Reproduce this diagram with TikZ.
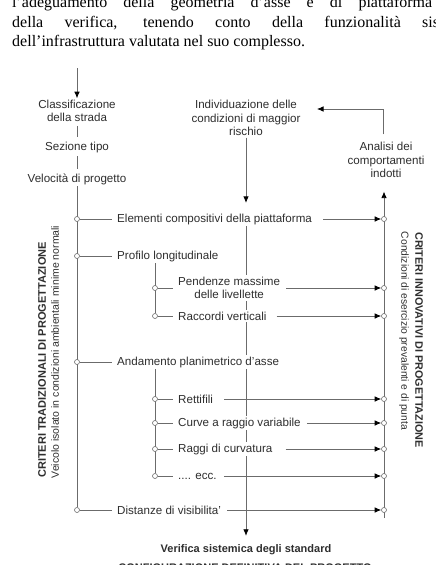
\documentclass[tikz,border=0pt]{standalone}
\usepackage{fontspec}
\setmainfont{Liberation Sans}
\newfontfamily\serifa{Liberation Serif}
\usetikzlibrary{arrows.meta}
\usetikzlibrary{backgrounds}
\definecolor{linea}{gray}{0.42}
\definecolor{scritta}{gray}{0.18}
\tikzset{
   voce/.style={font=\fontsize{11.6}{13.6}\selectfont, text=scritta,
      fill=white, inner ysep=1.5pt, inner xsep=5pt},
   voce2/.style={voce, align=center},
   titolo/.style={font=\fontsize{11}{13}\selectfont\bfseries, text=scritta, inner sep=0pt},
   sottotitolo/.style={font=\fontsize{10.5}{12}\selectfont, text=scritta, inner sep=0pt},
   testo/.style={font=\serifa\fontsize{16}{19}\selectfont, inner sep=0pt},
   filo/.style={draw=linea, line width=0.8pt},
   freccia/.style={filo, -{Latex[length=6.5pt,width=5.5pt,black]}},
   pallino/.style={circle, draw=linea, fill=white, line width=0.6pt,
      inner sep=0pt, minimum size=5pt},
    }
\begin{document}
\begin{tikzpicture}[x=1pt,y=-1pt]
\useasboundingbox (0,0) rectangle (436,565);
\clip (0,0) rectangle (436,565);
% testo della pagina
\node[testo, anchor=base west] (riga1) at (12,7)
   {\makebox[420pt][s]{l’adeguamento della geometria d’asse e di piattaforma}};
\node[testo, anchor=base west] (riga2) at (12,27)
   {\makebox[410pt][s]{della verifica, tenendo conto della funzionalità\ \mbox{}}sistemica};
\node[testo, anchor=base west] (riga3) at (12,46)
   {dell’infrastruttura valutata nel suo complesso.};

% colonna di sinistra
\coordinate (inizio) at (77,68);
\node[voce2] (classif) at (77,111) {Classificazione\\della strada};
\node[voce] (sezione) at (77,147) {Sezione tipo};
\node[voce] (velocita) at (77,179) {Velocità di progetto};
\draw[freccia] (inizio) -- (classif);
\draw[filo, shorten <=2pt, shorten >=3pt] (classif) -- (sezione);
\draw[filo, shorten <=2pt, shorten >=3pt] (sezione) -- (velocita);

% rischio e comportamenti
\node[voce2] (individ) at (246,118) {Individuazione delle\\condizioni di maggior\\rischio};
\node[voce2] (analisi) at (386,160) {Analisi dei\\comportamenti\\indotti};
\coordinate (ritorno) at (317,109);
\draw[freccia, shorten <=6pt] (analisi.north -| 383,0) |- (ritorno);

% voci principali
\node[pallino] (pElem) at (77,219) {};
\node[voce, anchor=west] (elem) at (112,219) {Elementi compositivi della piattaforma};
\node[pallino] (pProf) at (77,256) {};
\node[voce, anchor=west] (profilo) at (112,256) {Profilo longitudinale};
\node[pallino] (pAnd) at (77,362) {};
\node[voce, anchor=west] (andam) at (112,362) {Andamento planimetrico d’asse};
\node[pallino] (pDist) at (77,510) {};
\node[voce, anchor=west] (dist) at (112,510) {Distanze di visibilita’};

% voci secondarie
\node[pallino] (pPend) at (155,288) {};
\node[voce2, anchor=west] (pend) at (173,288) {Pendenze massime\\delle livellette};
\node[pallino] (pRacc) at (155,316) {};
\node[voce, anchor=west] (racc) at (173,316) {Raccordi verticali};
\node[pallino] (pRett) at (155,399) {};
\node[voce, anchor=west] (rett) at (173,399) {Rettifili};
\node[pallino] (pCurve) at (155,423) {};
\node[voce, anchor=west] (curve) at (173,423) {Curve a raggio variabile};
\node[pallino] (pRaggi) at (155,449) {};
\node[voce, anchor=west] (raggi) at (173,449) {Raggi di curvatura};
\node[pallino] (pEcc) at (155,476) {};
\node[voce, anchor=west] (ecc) at (173,476) {.... ecc.};

% attacchi sulla linea di destra
\node[pallino] (qElem) at (384,219) {};
\node[pallino] (qPend) at (384,288) {};
\node[pallino] (qRacc) at (384,316) {};
\node[pallino] (qRett) at (384,399) {};
\node[pallino] (qCurve) at (384,423) {};
\node[pallino] (qRaggi) at (384,449) {};
\node[pallino] (qEcc) at (384,476) {};
\node[pallino] (qDist) at (384,510) {};
\coordinate (fondo) at (384,518);

\draw[filo] (pElem) -- (elem);
\draw[filo] (pProf) -- (profilo);
\draw[filo] (pAnd) -- (andam);
\draw[filo] (pDist) -- (dist);
\draw[filo] (pPend) -- (pend);
\draw[filo] (pRacc) -- (racc);
\draw[filo] (pRett) -- (rett);
\draw[filo] (pCurve) -- (curve);
\draw[filo] (pRaggi) -- (raggi);
\draw[filo] (pEcc) -- (ecc);

\draw[freccia, shorten <=6pt] (elem) -- (qElem);
\draw[freccia, shorten <=1pt] (pend) -- (qPend);
\draw[freccia, shorten <=5pt] (racc) -- (qRacc);
\draw[freccia, shorten <=6pt] (rett) -- (qRett);
\draw[freccia, shorten <=1pt] (curve) -- (qCurve);
\draw[freccia, shorten <=8pt] (raggi) -- (qRaggi);
\draw[freccia, shorten <=2pt] (ecc) -- (qEcc);
\draw[freccia, shorten <=1pt] (dist) -- (qDist);

% esito
\node[titolo, anchor=base] (verifica) at (246,552) {Verifica sistemica degli standard};
\node[titolo, anchor=base] (config) at (245,571) {CONFIGURAZIONE DEFINITIVA DEL PROGETTO};

% scritte verticali
\node[titolo, rotate=90] (tradiz) at (42,360) {CRITERI TRADIZIONALI DI PROGETTAZIONE};
\node[sottotitolo, rotate=90] (veicolo) at (55,352) {Veicolo isolato in condizioni ambientali minime normali};
\node[titolo, font=\fontsize{10.8}{12}\selectfont\bfseries, rotate=-90] (innov) at (419,340) {CRITERI INNOVATIVI DI PROGETTAZIONE};
\node[sottotitolo, font=\fontsize{10.3}{12}\selectfont, rotate=-90] (esercizio) at (404,331) {Condizioni di esercizio prevalenti e di punta};

% linee verticali
\begin{scope}[on background layer]
\draw[filo] (velocita) -- (pDist);
\draw[filo] (pPend |- profilo.south) -- (pRacc);
\draw[filo] (pRett |- andam.south) -- (pEcc);
\draw[freccia, shorten >=9pt] (individ) -- (elem.north -| individ);
\draw[freccia, shorten >=8pt] (elem.south -| individ) -- (verifica);
\draw[freccia, shorten >=12pt] (fondo) -- (analisi.south -| fondo);
\end{scope}
\end{tikzpicture}
\end{document}
